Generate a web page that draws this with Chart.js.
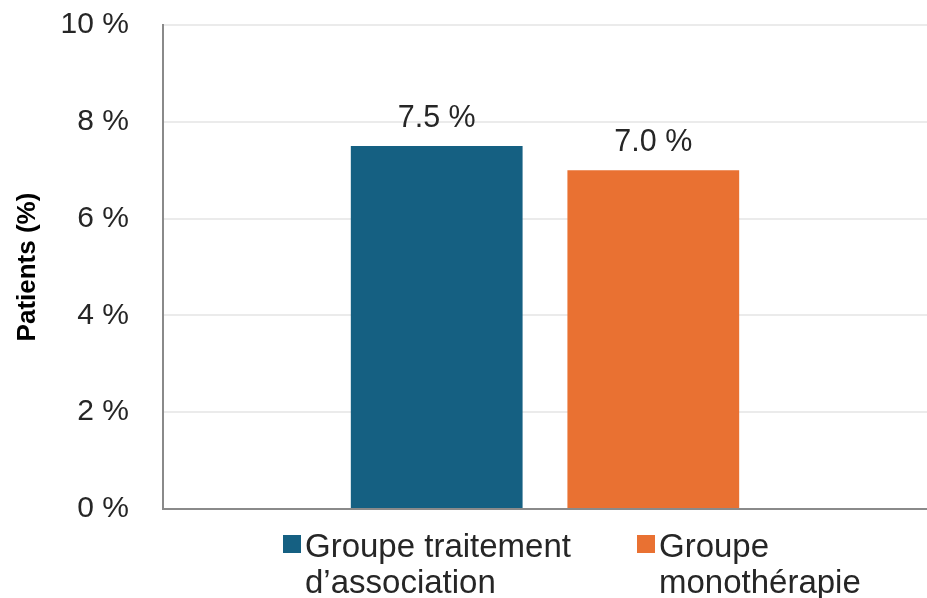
<!DOCTYPE html>
<html>
<head>
<meta charset="utf-8">
<script src="https://cdn.jsdelivr.net/npm/chart.js@4.4.1/dist/chart.umd.min.js"></script>
<style>
  html, body { margin: 0; padding: 0; background: #fff; }
  #wrap { width: 927px; height: 598px; position: relative; }
</style>
</head>
<body>
<div id="wrap"><canvas id="patientsChart" width="927" height="598"></canvas></div>
<script>
const categories = [""];
const seriesNames = [
	["Groupe traitement", "d’association"],
	["Groupe", "monothérapie"],
];
const combinedValues = [7.5];
const monoValues = [7.0];
const yTicks = [0, 2, 4, 6, 8, 10];
const seriesColors = ["#156082", "#E97132"];

const FONT = "'Liberation Sans', Arial, sans-serif";
const ctxCanvas = document.getElementById("patientsChart");

//////////////////////////////// value labels above bars

const valueLabels = {
	id: "valueLabels",
	afterDatasetsDraw(chart) {
		const ctx = chart.ctx;
		ctx.save();
		ctx.font = "30.5px " + FONT;
		ctx.fillStyle = "#262626";
		ctx.textAlign = "center";
		ctx.textBaseline = "alphabetic";
		chart.data.datasets.forEach((ds, i) => {
			chart.getDatasetMeta(i).data.forEach((bar, j) => {
				const txt = ds.data[j].toFixed(1) + " %";
				ctx.fillText(txt, bar.x, bar.y - 19);
			});
		});
		ctx.restore();
	},
};

//////////////////////////////// bottom legend (two-line labels)

const bottomLegend = {
	id: "bottomLegend",
	afterDraw(chart) {
		const ctx = chart.ctx;
		const area = chart.chartArea;
		const starts = [283, 637];
		ctx.save();
		ctx.font = "33px " + FONT;
		ctx.textBaseline = "alphabetic";
		ctx.textAlign = "left";
		chart.data.datasets.forEach((ds, i) => {
			const x = starts[i];
			const y = area.bottom + 26;
			ctx.fillStyle = ds.backgroundColor;
			ctx.fillRect(x, y, 18, 18);
			ctx.fillStyle = "#262626";
			ds.label.forEach((line, k) => {
				ctx.fillText(line, x + 22, y + 22 + k * 36);
			});
		});
		ctx.restore();
	},
};

new Chart(ctxCanvas, {
	type: "bar",
	data: {
		labels: categories,
		datasets: [
			{
				label: seriesNames[0],
				data: combinedValues,
				backgroundColor: seriesColors[0],
				borderWidth: 0,
			},
			{
				label: seriesNames[1],
				data: monoValues,
				backgroundColor: seriesColors[1],
				borderWidth: 0,
			},
		],
	},
	options: {
		responsive: false,
		animation: false,
		layout: {
			padding: { top: 25, right: 0, bottom: 89, left: 0 },
		},
		categoryPercentage: 0.567,
		barPercentage: 0.793,
		scales: {
			x: {
				ticks: { display: false },
				grid: { display: false, drawTicks: false },
				border: { display: true, color: "#8a8a8a", width: 2 },
				afterFit(scale) {
					scale.height = 0;
					scale.paddingLeft = 0;
					scale.paddingRight = 0;
				},
			},
			y: {
				min: 0,
				max: 10,
				afterBuildTicks(scale) {
					scale.ticks = yTicks.map((v) => ({ value: v }));
				},
				ticks: {
					padding: 34,
					color: "#262626",
					font: { family: FONT, size: 30 },
					callback: (v) => v + " %",
				},
				grid: { color: "#ebebeb", lineWidth: 2, drawTicks: false },
				border: { display: true, color: "#8a8a8a", width: 2 },
				title: {
					display: true,
					text: "Patients (%)",
					color: "#000",
					font: { family: FONT, size: 26, weight: "bold" },
					padding: { top: 12, bottom: 0 },
				},
				afterFit(scale) {
					scale.width = 163;
					scale.paddingTop = 0;
					scale.paddingBottom = 0;
				},
			},
		},
		plugins: {
			legend: { display: false },
			tooltip: { enabled: false },
		},
	},
	plugins: [valueLabels, bottomLegend],
});
</script>
</body>
</html>
